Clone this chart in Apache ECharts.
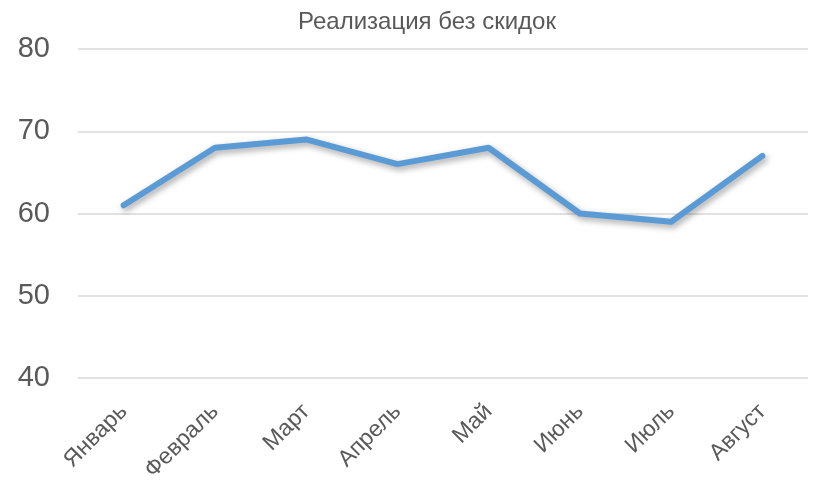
<!DOCTYPE html>
<html><head><meta charset="utf-8">
<script src="https://cdn.jsdelivr.net/npm/echarts@6/dist/echarts.min.js"></script>
<style>html,body{margin:0;padding:0;background:#fff}#c{width:818px;height:494px}</style>
</head><body><div id="c"></div>
<script>
const categories = ['Январь','Февраль','Март','Апрель','Май','Июнь','Июль','Август'];
const values = [61, 68, 69, 66, 68, 60, 59, 67];
const yTicks = [40, 50, 60, 70, 80];
const titleText = 'Реализация без скидок';
const FONT = '"Liberation Sans Narrow", "Arial Narrow", "Liberation Sans", sans-serif';
const chart = echarts.init(document.getElementById('c'));
chart.setOption({
  animation: false,
  title: { text: titleText, left: 293, top: 5,
    textStyle: { fontFamily: FONT, fontSize: 24, fontWeight: 'normal', color: '#595959' } },
  grid: { left: 78, right: 10, top: 49, bottom: 116 },
  xAxis: { type: 'category', data: categories, boundaryGap: true,
    axisLine: { show: false }, axisTick: { show: false },
    axisLabel: { rotate: 45, fontFamily: FONT, fontSize: 23, color: '#595959', margin: 30 } },
  yAxis: { type: 'value', min: yTicks[0], max: yTicks[yTicks.length-1], interval: 10,
    axisLine: { show: false }, axisTick: { show: false },
    axisLabel: { fontFamily: FONT, fontSize: 29, color: '#595959', margin: 28,
      formatter: v => yTicks.includes(v) ? String(v) : '' },
    splitLine: { lineStyle: { color: '#d9d9d9', width: 1.5 } } },
  series: [{ type: 'line', data: values, symbol: 'none',
    lineStyle: { color: '#5B9BD5', width: 6, cap: 'round', join: 'round',
      shadowColor: 'rgba(0,0,0,0.35)', shadowBlur: 6, shadowOffsetX: 2, shadowOffsetY: 3 } }]
});
</script></body></html>
